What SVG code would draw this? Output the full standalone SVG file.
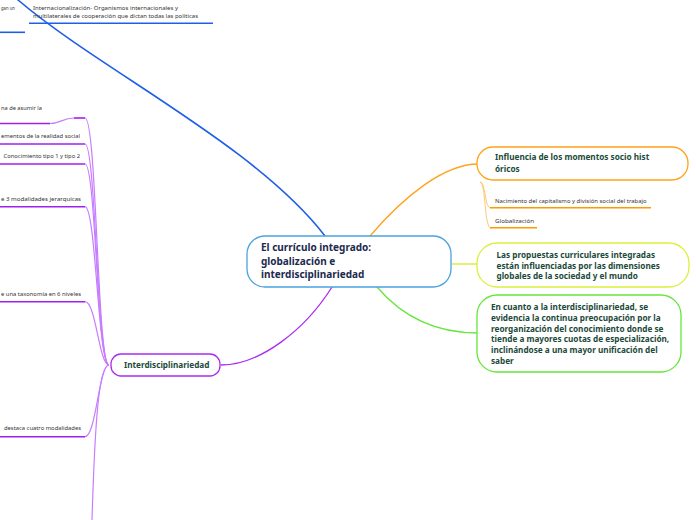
<svg xmlns="http://www.w3.org/2000/svg" width="696" height="520" viewBox="0 0 696 520">
<style>
.node{fill:#ffffff;stroke-width:1.3}
.t{font-family:"Noto Sans","Open Sans",sans-serif;font-weight:bold;font-size:8.2px;fill:#1b4a3a}
.tc{font-family:"Noto Sans","Open Sans",sans-serif;font-weight:bold;font-size:10px;fill:#1b2a4e}
.s{font-family:"Noto Sans","Open Sans",sans-serif;font-size:5.8px;fill:#333333}
.c{fill:none}
</style>
<rect width="696" height="520" fill="#ffffff"/>
<g id="connectors">
  <path class="c" d="M325,236 C255,145 100,70 18,0 L-10,-25" stroke="#1f5fe8" stroke-width="1.6"/>
  <path class="c" d="M370,236 C405,195 445,164 478,164" stroke="#ffa31a" stroke-width="1.3"/>
  <path class="c" d="M452,264 H478" stroke="#dcef3a" stroke-width="1.5"/>
  <path class="c" d="M377,287 C405,320 440,333 478,333" stroke="#66e63a" stroke-width="1.3"/>
  <path class="c" d="M332,287 C305,330 260,365 221,365" stroke="#a92cf0" stroke-width="1.3"/>
  <path class="c" d="M480,182 C486,182 484,208 491,208" stroke="#ffc060" stroke-width="0.9"/>
  <path class="c" d="M480,182 C486,182 484,228 491,228" stroke="#ffc060" stroke-width="0.9"/>
  <g stroke="#c77dff" stroke-width="1.2" fill="none">
    <path d="M50,123.5 C60,123.5 63,118 74,118"/>
    <path d="M85,118 C97,118 97,365 109,365"/>
    <path d="M85,144 C96,144 97,365 109,365"/>
    <path d="M85,164 C96,164 97,365 109,365"/>
    <path d="M85,206.7 C96,206.7 98,365 109,365"/>
    <path d="M85,301.7 C96,301.7 99,365 109,365"/>
    <path d="M85,436.7 C96,436.7 99,365 109,365"/>
    <path d="M109,365 C99,365 95,420 92,520"/>
  </g>
</g>
<g id="central">
  <rect class="node" x="247" y="236" width="204" height="51" rx="18" stroke="#4aa3df"/>
  <text class="tc" x="261" y="251">El currículo integrado:</text>
  <text class="tc" x="261" y="264.5">globalización e</text>
  <text class="tc" x="261" y="278">interdisciplinariedad</text>
</g>
<g id="influencia">
  <rect class="node" x="477" y="147" width="211" height="33" rx="16" stroke="#ffa31a"/>
  <text class="t" x="495" y="160.2">Influencia de los momentos socio hist</text>
  <text class="t" x="495" y="172.2">óricos</text>
</g>
<g id="nacimiento">
  <text class="s" x="495" y="203" textLength="151.7" lengthAdjust="spacingAndGlyphs">Nacimiento del capitalismo y división social del trabajo</text>
  <path d="M490,207.7 H651" stroke="#ff9900" stroke-width="1.6"/>
</g>
<g id="globalizacion">
  <text class="s" x="495" y="222.7" textLength="39" lengthAdjust="spacingAndGlyphs">Globalización</text>
  <path d="M490,227.7 H537" stroke="#ff9900" stroke-width="1.6"/>
</g>
<g id="propuestas">
  <rect class="node" x="477" y="243" width="212" height="44" rx="20" stroke="#dcef3a"/>
  <text class="t" x="496.5" y="258">Las propuestas curriculares integradas</text>
  <text class="t" x="496.5" y="268.7">están influenciadas por las dimensiones</text>
  <text class="t" x="496.5" y="279.2">globales de la sociedad y el mundo</text>
</g>
<g id="interdisciplinariedad-ev">
  <rect class="node" x="477" y="295" width="204" height="77" rx="20" stroke="#66e63a"/>
  <text class="t" x="491" y="309.7">En cuanto a la interdisciplinariedad, se</text>
  <text class="t" x="491" y="320.5">evidencia la continua preocupación por la</text>
  <text class="t" x="491" y="331.5">reorganización del conocimiento donde se</text>
  <text class="t" x="491" y="342.3">tiende a mayores cuotas de especialización,</text>
  <text class="t" x="491" y="353">inclinándose a una mayor unificación del</text>
  <text class="t" x="491" y="364">saber</text>
</g>
<g id="interdisciplinariedad">
  <rect class="node" x="111" y="354" width="109" height="22" rx="10" stroke="#a92cf0"/>
  <text class="t" x="124" y="368">Interdisciplinariedad</text>
</g>
<g id="internacionalizacion">
  <text class="s" x="33" y="10" textLength="145" lengthAdjust="spacingAndGlyphs">Internacionalización- Organismos internacionales  y</text>
  <text class="s" x="33" y="17.7" textLength="165" lengthAdjust="spacingAndGlyphs">multilaterales de cooperación que dictan todas las políticas</text>
  <path d="M29,23.3 H213" stroke="#1f5fe8" stroke-width="1.6"/>
</g>
<g id="gan-un">
  <text class="s" x="1" y="10" textLength="14" lengthAdjust="spacingAndGlyphs">gan un</text>
  <path d="M0,32.3 H25" stroke="#1f5fe8" stroke-width="1.6"/>
</g>
<g id="left1">
  <text class="s" x="1" y="109.7" textLength="41" lengthAdjust="spacingAndGlyphs">na de asumir la</text>
  <path d="M0,123.5 H50" stroke="#a020f0" stroke-width="1.6"/>
  <path d="M74,118 H85" stroke="#a020f0" stroke-width="1.6"/>
</g>
<g id="left2">
  <text class="s" x="1" y="137.7" textLength="79" lengthAdjust="spacingAndGlyphs">ementos de la realidad social</text>
  <path d="M0,144 H85" stroke="#a020f0" stroke-width="1.6"/>
</g>
<g id="left3">
  <text class="s" x="3.6" y="158" textLength="76.4" lengthAdjust="spacingAndGlyphs">Conocimiento tipo 1 y tipo 2</text>
  <path d="M0,164 H85" stroke="#a020f0" stroke-width="1.6"/>
</g>
<g id="left4">
  <text class="s" x="1" y="201" textLength="80" lengthAdjust="spacingAndGlyphs">e 3 modalidades jerarquicas</text>
  <path d="M0,206.7 H85" stroke="#a020f0" stroke-width="1.6"/>
</g>
<g id="left5">
  <text class="s" x="1" y="296.3" textLength="80" lengthAdjust="spacingAndGlyphs">e una taxonomía en 6 niveles</text>
  <path d="M0,301.7 H85" stroke="#a020f0" stroke-width="1.6"/>
</g>
<g id="left6">
  <text class="s" x="4" y="430.3" textLength="77" lengthAdjust="spacingAndGlyphs">destaca cuatro modalidades</text>
  <path d="M0,436.7 H85" stroke="#a020f0" stroke-width="1.6"/>
</g>
</svg>
